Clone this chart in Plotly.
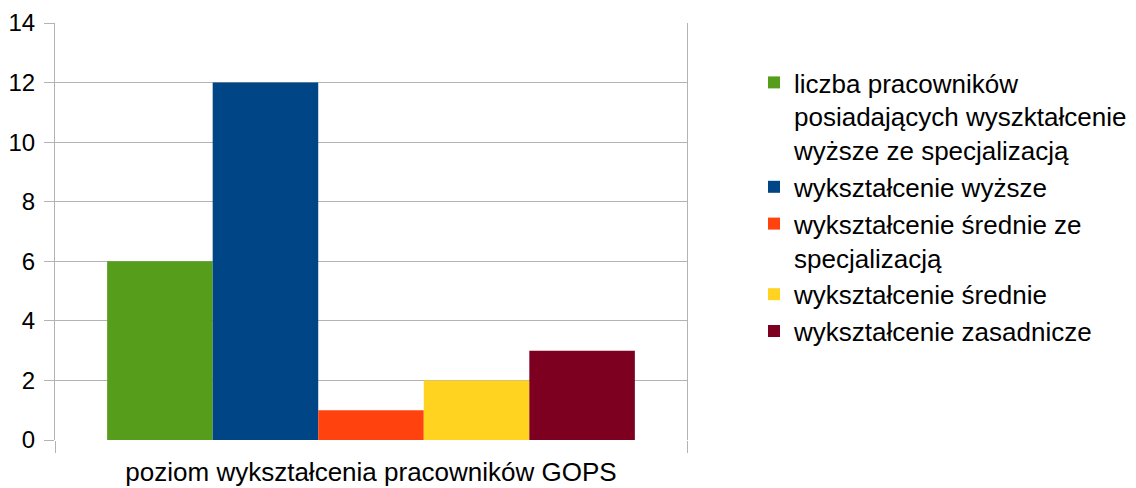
import plotly.graph_objects as go

category = ["poziom wykształcenia pracowników GOPS"]
series_names = [
    "liczba pracowników<br>posiadających wyszktałcenie<br>wyższe ze specjalizacją",
    "wykształcenie wyższe",
    "wykształcenie średnie ze<br>specjalizacją",
    "wykształcenie średnie",
    "wykształcenie zasadnicze",
]
series_values = [6, 12, 1, 2, 3]
colors = ["#579d1c", "#004586", "#ff420e", "#ffd320", "#7e0021"]
y_ticks = [0, 2, 4, 6, 8, 10, 12, 14]

FONT = "Liberation Sans, Arial, sans-serif"
GRID = "#b3b3b3"
W, H = 1128, 480

fig = go.Figure()
for name, val, col in zip(series_names, series_values, colors):
    fig.add_trace(go.Bar(x=category, y=[val], name=name, marker=dict(color=col, line=dict(width=0))))

fig.update_layout(
    width=W, height=H,
    margin=dict(l=47, r=449, t=15, b=48, autoexpand=False),
    paper_bgcolor="white", plot_bgcolor="white",
    barmode="group", bargap=0.165, bargroupgap=0,
    font=dict(family=FONT, size=24, color="black"),
    showlegend=True,
    legend=dict(
        xref="container", yref="container",
        x=746/W, y=1 - 51/H, xanchor="left", yanchor="top",
        font=dict(family=FONT, size=26, color="black"),
        bgcolor="rgba(0,0,0,0)", traceorder="normal", valign="top",
        maxheight=470,
    ),
    xaxis=dict(
        type="category", tickson="boundaries", ticks="outside", ticklen=12,
        tickcolor=GRID, tickwidth=1, showgrid=False, showline=False,
        tickfont=dict(family=FONT, size=26, color="black"),
        ticklabelstandoff=14,
        range=[-0.5, 0.5],
    ),
    yaxis=dict(
        range=[0, 14], tickvals=y_ticks, ticks="outside", ticklen=10,
        tickcolor=GRID, tickwidth=1, gridcolor=GRID, gridwidth=1,
        showline=True, linecolor=GRID, linewidth=1, mirror=True,
        zeroline=False, tickfont=dict(family=FONT, size=24, color="black"),
        ticklabelstandoff=4,
    ),
)

fig.write_html("out.html")
